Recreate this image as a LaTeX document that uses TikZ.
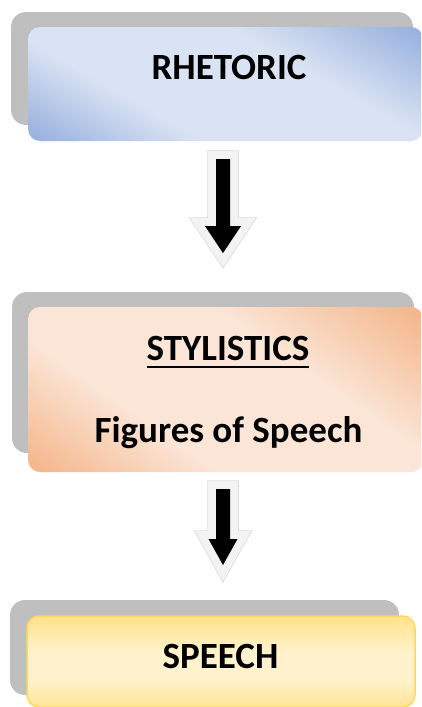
\documentclass[tikz,border=0pt]{standalone}
\usepackage{fontspec}
\setmainfont{Carlito}
\usetikzlibrary{calc}
\definecolor{bdark}{HTML}{8FAADC}
\definecolor{blight}{HTML}{DAE3F3}
\definecolor{odark}{HTML}{F4B183}
\definecolor{olight}{HTML}{FBE5D6}
\definecolor{ydark}{HTML}{FFD966}
\definecolor{ylight}{HTML}{FFF2CC}
\definecolor{yborder}{HTML}{FFD75E}
\definecolor{backgrey}{HTML}{BFBFBF}
\definecolor{shgrey}{HTML}{C4C4C4}
\definecolor{rimedge}{HTML}{DADADA}
\definecolor{rimfill}{HTML}{F3F3F3}
\pgfdeclareverticalshading{blueshade}{100bp}{color(0bp)=(bdark); color(14bp)=(bdark); color(36bp)=(blight); color(62bp)=(blight); color(86bp)=(bdark); color(100bp)=(bdark)}
\pgfdeclareverticalshading{orangeshade}{100bp}{color(0bp)=(odark); color(14bp)=(odark); color(36bp)=(olight); color(62bp)=(olight); color(86bp)=(odark); color(100bp)=(odark)}
\pgfdeclareverticalshading{yellowshade}{100bp}{color(0bp)=(ydark); color(12bp)=(ydark); color(40bp)=(ylight); color(55bp)=(ylight); color(86bp)=(ydark); color(100bp)=(ydark)}
\tikzset{
  backbox/.style={fill=backgrey, rounded corners=15pt},
  frontbox/.style={rectangle, rounded corners=12pt, inner sep=0pt, outer sep=0pt},
  boxtext/.style={font=\bfseries\fontsize{37}{44}\selectfont, anchor=base, inner sep=0pt, outer sep=0pt},
  arrshadow/.style={fill=shgrey, draw=shgrey, line width=16pt, line join=miter, shift={(3,4)}},
  arrrimedge/.style={draw=rimedge, line width=17.5pt, line join=miter},
  arrrim/.style={draw=rimfill, line width=16pt, line join=miter},
  arrcore/.style={fill=black},
}
\newcommand{\blockarrowpart}[6]{%
  \path[#6] let \p1=(#1), \p2=(#2) in
    (\x1-#3pt,\y1) -- (\x1+#3pt,\y1) -- (\x1+#3pt,\y2+#5pt) -- (\x1+#4pt,\y2+#5pt)
    -- (\x1,\y2) -- (\x1-#4pt,\y2+#5pt) -- (\x1-#3pt,\y2+#5pt) -- cycle;}
\newcommand{\drawblockarrow}[5]{%
  \blockarrowpart{#1}{#2}{#3}{#4}{#5}{arrshadow}%
  \blockarrowpart{#1}{#2}{#3}{#4}{#5}{arrrimedge}%
  \blockarrowpart{#1}{#2}{#3}{#4}{#5}{arrrim}%
  \blockarrowpart{#1}{#2}{#3}{#4}{#5}{arrcore}}
\begin{document}
\begin{tikzpicture}[x=1pt,y=-1pt]
\useasboundingbox (0,0) rectangle (421,707);
\clip (0,0) rectangle (421,707);
% RHETORIC
\fill[backbox] (11,12) rectangle (413,125);
\node[frontbox, shading=blueshade, shading angle=-30, minimum width=395pt, minimum height=114pt] (rhet) at (225.5,84) {};
\node[boxtext] (rhettext) at (229,79) {RHETORIC};
% STYLISTICS
\fill[backbox] (12,292) rectangle (414,453);
\node[frontbox, shading=orangeshade, shading angle=-35, minimum width=395pt, minimum height=165pt] (styl) at (225.5,389.5) {};
\node[boxtext] (stytext) at (228,360) {STYLISTICS};
\draw[line width=2.2pt] ([yshift=-6.7pt]stytext.south west) -- ([yshift=-6.7pt]stytext.south east);
\node[boxtext] (figtext) at (228.5,442) {Figures of Speech};
% SPEECH
\fill[backbox] (10,600) rectangle (399,695);
\node[frontbox, shading=yellowshade, draw=yborder, line width=1.5pt, minimum width=388pt, minimum height=91pt] (spch) at (221,661.5) {};
\node[boxtext] (spchtext) at (220.5,668) {SPEECH};
% arrows
\coordinate (a1s) at (223,159);
\coordinate (a1e) at (223,253);
\coordinate (a2s) at (223,489);
\coordinate (a2e) at (223,565);
\drawblockarrow{a1s}{a1e}{7}{18}{27}
\drawblockarrow{a2s}{a2e}{7}{14.5}{26}
\end{tikzpicture}
\end{document}
